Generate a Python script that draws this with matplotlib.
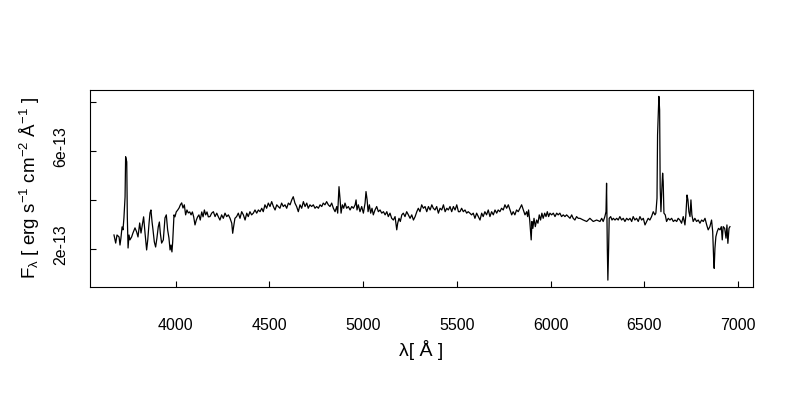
import numpy as np
import matplotlib
matplotlib.use("Agg")
import matplotlib.pyplot as plt
import matplotlib.transforms as mtransforms

plt.rcParams["font.family"] = ["Liberation Sans", "DejaVu Sans"]
plt.rcParams["mathtext.default"] = "regular"

# spectrum, flux in units of 1e-13 erg/s/cm2/A
wave_blue = [3672, 3681, 3688, 3699, 3704, 3709, 3715, 3720, 3725, 3731,
             3734, 3740, 3743, 3747, 3752, 3757, 3766, 3773, 3784, 3793,
             3800, 3809, 3816, 3823, 3830, 3837, 3846, 3852, 3859, 3864,
             3869, 3875, 3880, 3887, 3894, 3901, 3908, 3914, 3919, 3926,
             3935, 3944, 3951, 3958, 3965, 3971, 3976, 3981, 3985, 3988,
             3992, 3997, 4004, 4012, 4019, 4026, 4033, 4040, 4047, 4054,
             4061, 4068, 4076, 4083, 4090, 4097, 4104, 4111, 4118, 4125,
             4132, 4140, 4147, 4154, 4161, 4168, 4175]
flux_blue = [2.57, 2.24, 2.57, 2.49, 2.16, 2.45, 2.90, 2.78, 3.27, 4.12,
             5.76, 5.55, 3.31, 2.04, 2.57, 2.37, 2.49, 2.65, 2.86, 2.69,
             2.49, 3.06, 2.65, 2.98, 3.31, 2.69, 1.96, 2.37, 3.06, 3.47,
             3.59, 3.10, 2.78, 2.29, 2.08, 2.45, 2.90, 3.10, 2.65, 2.24,
             2.37, 3.27, 3.39, 2.78, 2.45, 1.96, 2.16, 1.88, 2.29, 2.78,
             3.39, 3.31, 3.51, 3.59, 3.67, 3.80, 3.88, 3.67, 3.80, 3.39,
             3.59, 3.47, 3.51, 3.39, 3.51, 3.31, 2.98, 3.18, 3.31, 3.39,
             3.18, 3.51, 3.31, 3.59, 3.39, 3.51, 3.31]

wave_hump = [4184, 4193, 4202, 4211, 4220, 4228, 4237, 4246, 4255, 4264,
             4273, 4282, 4291, 4300, 4305, 4310, 4317, 4326, 4335, 4344,
             4353, 4362, 4371, 4380, 4388, 4397, 4406, 4415, 4424, 4433,
             4442, 4451, 4460, 4468, 4477, 4486, 4495, 4504, 4513, 4522,
             4531, 4540, 4548, 4557, 4566, 4575, 4584, 4593, 4602, 4611,
             4620, 4628, 4637, 4646, 4655, 4664, 4673, 4682, 4691, 4700,
             4708, 4717, 4726, 4735, 4744, 4753, 4762, 4771, 4780, 4788,
             4797, 4806, 4815, 4824, 4833, 4842]
flux_hump = [3.32, 3.46, 3.52, 3.32, 3.46, 3.32, 3.18, 3.39, 3.25, 3.46,
             3.32, 3.39, 3.25, 3.05, 2.64, 2.91, 3.25, 3.32, 3.46, 3.25,
             3.52, 3.39, 3.18, 3.46, 3.32, 3.52, 3.39, 3.46, 3.59, 3.46,
             3.59, 3.52, 3.66, 3.52, 3.80, 3.66, 3.87, 3.73, 3.93, 3.73,
             3.59, 3.80, 3.73, 3.66, 3.87, 3.73, 3.80, 3.66, 3.87, 3.80,
             4.00, 4.13, 3.87, 3.73, 3.52, 3.80, 3.66, 3.93, 3.73, 3.87,
             3.66, 3.80, 3.73, 3.80, 3.66, 3.73, 3.66, 3.80, 3.73, 3.87,
             3.80, 3.93, 3.80, 3.73, 3.87, 3.66]

wave_green = [4851, 4860, 4865, 4872, 4878, 4883, 4890, 4897, 4904, 4913,
              4922, 4931, 4940, 4949, 4958, 4963, 4968, 4975, 4984, 4993,
              5002, 5011, 5016, 5022, 5027, 5034, 5041, 5048, 5055, 5064,
              5073, 5082, 5091, 5100, 5109, 5118, 5127, 5135, 5144, 5153,
              5162, 5171, 5180, 5185, 5192, 5199, 5207, 5215, 5224, 5233,
              5242, 5251, 5260, 5269, 5278, 5287, 5295, 5304, 5313, 5322,
              5331, 5340, 5349, 5358, 5367, 5375, 5384, 5393, 5402, 5411,
              5420, 5429, 5438, 5447, 5455, 5464, 5473, 5482, 5491, 5500,
              5509]
flux_green = [3.52, 3.73, 3.46, 4.54, 4.00, 3.46, 3.80, 3.66, 3.87, 3.66,
              3.73, 3.59, 3.73, 3.66, 3.80, 4.00, 3.59, 3.80, 3.52, 3.73,
              3.46, 3.87, 4.34, 4.00, 3.52, 3.80, 3.46, 3.66, 3.39, 3.59,
              3.73, 3.52, 3.59, 3.46, 3.52, 3.39, 3.52, 3.32, 3.46, 3.25,
              3.18, 3.32, 2.78, 3.05, 3.25, 3.12, 3.39, 3.46, 3.32, 3.52,
              3.39, 3.25, 3.39, 3.18, 3.32, 3.52, 3.66, 3.52, 3.80, 3.66,
              3.73, 3.52, 3.73, 3.59, 3.80, 3.66, 3.59, 3.73, 3.46, 3.66,
              3.59, 3.80, 3.52, 3.66, 3.59, 3.73, 3.52, 3.73, 3.59, 3.80,
              3.52]

wave_yellow = [5517, 5526, 5535, 5544, 5553, 5561, 5570, 5579, 5588, 5597,
               5606, 5615, 5624, 5633, 5641, 5650, 5659, 5668, 5677, 5686,
               5695, 5704, 5713, 5721, 5730, 5739, 5748, 5757, 5766, 5775,
               5784, 5793, 5801, 5810, 5819, 5828, 5837, 5846, 5855, 5864,
               5873, 5878, 5883, 5889, 5894, 5897, 5901, 5906, 5912, 5919,
               5926, 5933, 5940, 5947, 5954, 5961, 5969, 5976, 5983, 5990,
               5997, 6006, 6015, 6024, 6033, 6041, 6050, 6059, 6068, 6077,
               6086, 6095, 6104, 6113, 6121, 6130, 6139, 6148]
flux_yellow = [3.52, 3.66, 3.52, 3.59, 3.46, 3.52, 3.46, 3.39, 3.46, 3.25,
               3.46, 3.32, 3.18, 3.46, 3.32, 3.52, 3.39, 3.59, 3.32, 3.52,
               3.39, 3.59, 3.46, 3.59, 3.52, 3.66, 3.59, 3.80, 3.66, 3.80,
               3.59, 3.39, 3.52, 3.39, 3.59, 3.52, 3.66, 3.80, 3.59, 3.39,
               3.52, 3.32, 3.59, 3.18, 2.64, 2.37, 3.12, 2.84, 3.25, 2.91,
               3.18, 3.05, 3.39, 3.18, 3.46, 3.25, 3.46, 3.32, 3.52, 3.32,
               3.46, 3.39, 3.46, 3.32, 3.46, 3.39, 3.46, 3.32, 3.39, 3.32,
               3.39, 3.32, 3.25, 3.39, 3.25, 3.18, 3.32, 3.25]

wave_red = [6157, 6175, 6193, 6210, 6228, 6246, 6264, 6273, 6281, 6290,
            6296, 6299, 6303, 6306, 6310, 6313, 6321, 6328, 6335, 6344,
            6353, 6361, 6370, 6379, 6388, 6397, 6406, 6415, 6424, 6433,
            6441, 6450, 6459, 6468, 6477, 6486, 6495, 6504, 6513, 6521,
            6530, 6539, 6548, 6557, 6562, 6568, 6571, 6575, 6578, 6582,
            6585, 6589, 6594, 6598, 6601, 6605, 6612, 6619, 6628, 6637,
            6646, 6655, 6664, 6673, 6681, 6690, 6699, 6708, 6717, 6722,
            6728, 6733, 6738, 6744, 6749, 6754, 6761, 6770, 6779, 6788,
            6797, 6806, 6815, 6824, 6833, 6841, 6850, 6859, 6865, 6870,
            6873, 6877, 6882, 6889, 6896, 6904, 6911, 6916, 6921, 6929,
            6936, 6941, 6946, 6952, 6957]
flux_red = [3.25, 3.18, 3.12, 3.25, 3.12, 3.18, 3.12, 3.25, 3.12, 3.32,
            3.52, 4.68, 2.03, 0.73, 2.03, 3.25, 3.32, 3.18, 3.25, 3.18,
            3.25, 3.18, 3.32, 3.18, 3.25, 3.12, 3.25, 3.18, 3.25, 3.12,
            3.32, 3.18, 3.25, 3.12, 3.32, 3.18, 3.25, 2.98, 3.12, 3.25,
            3.18, 3.32, 3.52, 3.39, 3.46, 4.07, 6.65, 7.54, 8.22, 7.67,
            4.48, 3.52, 4.48, 5.09, 4.75, 3.46, 3.39, 3.12, 3.25, 3.18,
            3.25, 3.12, 3.18, 3.12, 3.25, 3.18, 3.05, 3.32, 2.98, 3.39,
            4.20, 4.00, 3.52, 3.32, 4.00, 3.39, 3.12, 3.25, 3.12, 3.18,
            3.05, 3.18, 3.12, 3.25, 2.98, 2.78, 2.91, 3.18, 2.71, 1.62,
            1.21, 2.03, 2.50, 2.71, 2.84, 2.78, 2.91, 2.37, 2.91, 2.84,
            2.44, 2.98, 2.23, 2.84, 2.91]

wave = np.concatenate([wave_blue, wave_hump, wave_green, wave_yellow, wave_red])
flux = np.concatenate([flux_blue, flux_hump, flux_green, flux_yellow, flux_red]) * 1e-13

x_ticks = [4000, 4500, 5000, 5500, 6000, 6500, 7000]
y_ticks = [2e-13, 4e-13, 6e-13, 8e-13]
y_ticklabels = ["2e-13", "", "6e-13", ""]

fig = plt.figure(figsize=(8, 4), dpi=100)
ax = fig.add_axes([90 / 800, 1 - 287 / 400, 663 / 800, 197 / 400])

ax.plot(wave, flux, color="black", lw=0.9)

ax.set_xlim(3544, 7080)
ax.set_ylim(0.45e-13, 8.48e-13)
ax.set_xticks(x_ticks)
ax.set_xticklabels([str(t) for t in x_ticks])
ax.set_yticks(y_ticks)
ax.set_yticklabels(y_ticklabels, rotation=90, va="center")

ax.tick_params(direction="in", length=4, width=0.8)
ax.tick_params(axis="x", pad=22.5, labelsize=11.5)
ax.tick_params(axis="y", pad=16, labelsize=11.5)
for s in ax.spines.values():
    s.set_linewidth(0.8)

# R places the rotated labels a little above their ticks
shift = mtransforms.ScaledTranslation(0, 4 / 100, fig.dpi_scale_trans)
for lab in ax.get_yticklabels():
    lab.set_transform(lab.get_transform() + shift)

fig.text(30 / 800, 1 - 188 / 400,
         r"F$_\lambda$ [ erg s$^{-1}$ cm$^{-2}$ Å$^{-1}$ ]",
         rotation=90, ha="center", va="center", fontsize=13.5)
fig.text(421 / 800, 1 - 350 / 400, "λ[ Å ]", ha="center", va="center", fontsize=14)

fig.savefig("out.png", dpi=100)
